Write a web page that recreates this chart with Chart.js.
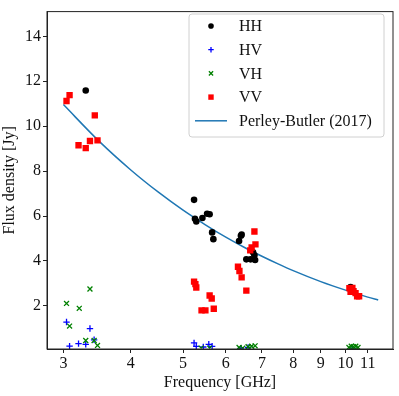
<!DOCTYPE html>
<html>
<head>
<meta charset="utf-8">
<script src="https://cdn.jsdelivr.net/npm/chart.js@4"></script>
<style>
  html, body { margin: 0; padding: 0; background: #fff; }
  #wrap { width: 399px; height: 396px; }
</style>
</head>
<body>
<div id="wrap"><canvas id="c" width="399" height="396"></canvas></div>
<script>
// values
const hhFreq = [3.30, 5.24, 5.26, 5.29, 5.43, 5.54, 5.60, 5.66, 5.69, 6.35, 6.40, 6.42, 6.55, 6.67, 6.74, 6.78, 6.80, 10.22];
const hhFlux = [11.59, 6.72, 5.88, 5.76, 5.91, 6.10, 6.08, 5.27, 4.97, 4.89, 5.12, 5.17, 4.07, 4.07, 4.39, 4.25, 4.04, 2.84];

const hvFreq = [3.04, 3.08, 3.20, 3.30, 3.36, 3.42, 5.24, 5.29, 5.45, 5.58, 5.66, 6.40, 6.60, 10.30];
const hvFlux = [1.28, 0.21, 0.32, 0.29, 0.99, 0.49, 0.35, 0.20, 0.17, 0.29, 0.20, 0.12, 0.15, 0.12];

const vhFreq = [3.04, 3.08, 3.21, 3.36, 3.30, 3.42, 3.47, 5.40, 5.60, 6.35, 6.45, 6.60, 6.70, 6.80, 10.15, 10.25, 10.35, 10.45, 10.55];
const vhFlux = [2.11, 1.10, 1.89, 2.75, 0.46, 0.46, 0.24, 0.12, 0.12, 0.15, 0.12, 0.18, 0.20, 0.22, 0.15, 0.20, 0.18, 0.20, 0.15];

const vvFreq = [3.04, 3.08, 3.20, 3.30, 3.36, 3.47, 3.43, 5.24, 5.27, 5.29, 5.41, 5.50, 5.60, 5.65, 5.70, 6.32, 6.36, 6.42, 6.55, 6.66, 6.70, 6.78, 6.81, 10.17, 10.22, 10.30, 10.35, 10.44, 10.51, 10.60];
const vvFlux = [11.12, 11.38, 9.15, 9.02, 9.34, 9.37, 10.48, 3.08, 2.97, 2.82, 1.80, 1.80, 2.46, 2.33, 1.87, 3.74, 3.55, 3.27, 2.68, 4.47, 4.60, 5.31, 4.74, 2.79, 2.62, 2.80, 2.65, 2.57, 2.43, 2.43];

const pbFreq = [3.0, 3.5, 4.0, 4.5, 5.0, 5.5, 6.0, 6.5, 7.0, 7.5, 8.0, 9.0, 10.0, 11.0, 11.5];
const pbFlux = [10.96, 9.31, 8.05, 7.06, 6.26, 5.61, 5.06, 4.60, 4.21, 3.87, 3.57, 3.08, 2.70, 2.39, 2.26];

const xTicks = [3, 4, 5, 6, 7, 8, 9, 10, 11];
const yTicks = [2, 4, 6, 8, 10, 12, 14];

const pts = (xs, ys) => xs.map((x, i) => ({ x: x, y: ys[i] }));
const FONT = "'Liberation Serif', 'DejaVu Serif', serif";

const datasets = [
  { label: 'Perley-Butler (2017)', type: 'line', data: pts(pbFreq, pbFlux),
    borderColor: '#1f77b4', borderWidth: 1.5, pointRadius: 0, fill: false,
    cubicInterpolationMode: 'monotone', order: 5 },
  { label: 'HH', data: pts(hhFreq, hhFlux), pointStyle: 'circle', pointRadius: 3.3,
    backgroundColor: '#000', borderColor: '#000', borderWidth: 0, order: 4 },
  { label: 'HV', data: pts(hvFreq, hvFlux), pointStyle: 'cross', pointRadius: 3.2,
    backgroundColor: '#0000ff', borderColor: '#0000ff', borderWidth: 1.3, order: 3 },
  { label: 'VH', data: pts(vhFreq, vhFlux), pointStyle: 'crossRot', pointRadius: 3.5,
    backgroundColor: '#008000', borderColor: '#008000', borderWidth: 1.3, order: 2 },
  { label: 'VV', data: pts(vvFreq, vvFlux), pointStyle: 'rect', pointRadius: 4.5,
    backgroundColor: '#ff0000', borderColor: '#ff0000', borderWidth: 0, order: 1 }
];

const legendOrder = ['HH', 'HV', 'VH', 'VV', 'Perley-Butler (2017)'];

const framePlugin = {
  id: 'frame',
  afterDatasetsDraw(chart) {
    const { ctx, chartArea: a } = chart;
    ctx.save();
    ctx.strokeStyle = '#222';
    ctx.lineWidth = 1;
    ctx.strokeRect(a.left, a.top, a.right - a.left, a.bottom - a.top);

    // legend box in the upper right
    const bx = 189, by = 14, bw = 195, bh = 123, r = 3;
    ctx.beginPath();
    ctx.moveTo(bx + r, by);
    ctx.arcTo(bx + bw, by, bx + bw, by + bh, r);
    ctx.arcTo(bx + bw, by + bh, bx, by + bh, r);
    ctx.arcTo(bx, by + bh, bx, by, r);
    ctx.arcTo(bx, by, bx + bw, by, r);
    ctx.closePath();
    ctx.fillStyle = 'rgba(255,255,255,0.85)';
    ctx.fill();
    ctx.strokeStyle = '#d0d0d0';
    ctx.stroke();

    ctx.font = '16px ' + FONT;
    ctx.textBaseline = 'middle';
    ctx.textAlign = 'left';
    legendOrder.forEach((name, i) => {
      const ds = chart.data.datasets.find(d => d.label === name);
      const y = 26 + i * 23.7;
      if (ds.type === 'line') {
        ctx.strokeStyle = ds.borderColor;
        ctx.lineWidth = ds.borderWidth;
        ctx.beginPath();
        ctx.moveTo(195, y);
        ctx.lineTo(227, y);
        ctx.stroke();
      } else {
        ctx.fillStyle = ds.backgroundColor;
        ctx.strokeStyle = ds.borderColor;
        ctx.lineWidth = ds.borderWidth;
        Chart.helpers.drawPoint(ctx, {
          pointStyle: ds.pointStyle, radius: ds.pointRadius * 0.85,
          rotation: 0, borderWidth: ds.borderWidth
        }, 211, y);
      }
      ctx.fillStyle = '#111';
      ctx.fillText(name, 239, y + 1);
    });
    ctx.restore();
  }
};

new Chart(document.getElementById('c'), {
  type: 'scatter',
  data: { datasets: datasets },
  plugins: [framePlugin],
  options: {
    responsive: false,
    animation: false,
    events: [],
    layout: { padding: { top: 5, right: 6, left: 0, bottom: 0 } },
    plugins: { legend: { display: false }, tooltip: { enabled: false } },
    scales: {
      x: {
        type: 'logarithmic', min: 2.797, max: 12.25,
        afterBuildTicks: s => { s.ticks = xTicks.map(v => ({ value: v })); },
        afterFit: s => { s.height = 47; },
        ticks: { color: '#111', font: { family: FONT, size: 16 }, padding: 1, maxRotation: 0, autoSkip: false,
                 callback: v => String(v) },
        grid: { drawOnChartArea: false, drawTicks: true, tickLength: 4, color: '#222' },
        border: { color: '#222' },
        title: { display: true, text: 'Frequency [GHz]', color: '#111',
                 font: { family: FONT, size: 16 }, padding: { top: 0, bottom: 4 } }
      },
      y: {
        type: 'linear', min: 0.08, max: 15.1,
        afterBuildTicks: s => { s.ticks = yTicks.map(v => ({ value: v })); },
        afterFit: s => { s.width = 47; },
        ticks: { color: '#111', font: { family: FONT, size: 16 }, padding: 2, autoSkip: false,
                 callback: v => String(v) },
        grid: { drawOnChartArea: false, drawTicks: true, tickLength: 4, color: '#222' },
        border: { color: '#222' },
        title: { display: true, text: 'Flux density [Jy]', color: '#111',
                 font: { family: FONT, size: 16 }, padding: { top: 0, bottom: 4 } }
      }
    }
  }
});
</script>
</body>
</html>
